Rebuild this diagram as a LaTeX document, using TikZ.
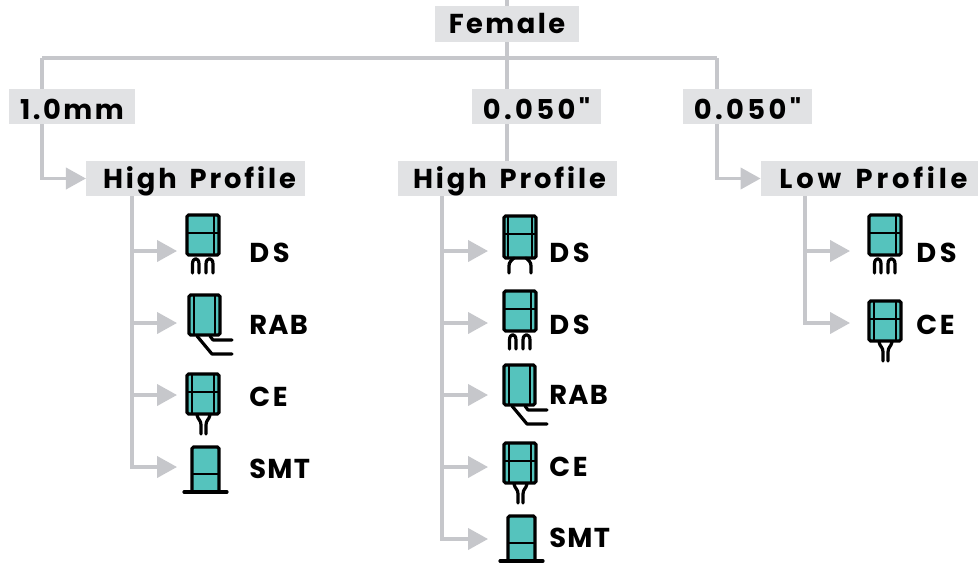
\documentclass[tikz,border=0pt]{standalone}
\usepackage{fontspec}
\newfontfamily\hdfont{Poppins}[LetterSpace=9,WordSpace=1.5]
\newfontfamily\lbfont{Poppins}[LetterSpace=5]
\newcommand{\spaced}[2]{{\addfontfeature{LetterSpace=#1}#2}}
\usetikzlibrary{arrows.meta}
\definecolor{teal1}{HTML}{55C3BD}
\definecolor{conn}{HTML}{C6C7CB}
\definecolor{boxg}{HTML}{E1E2E4}
\tikzset{x=0.75pt,y=-0.75pt,
  hd/.style={fill=boxg,inner sep=0pt,text=black,font=\hdfont\bfseries\fontsize{20.5}{24}\selectfont,anchor=center,text height=14.5pt,text depth=0pt},
  hdlow/.style={hd,text height=18.8pt},
  lb/.style={inner sep=0pt,anchor=west,text=black,font=\lbfont\bfseries\fontsize{20.5}{24}\selectfont},
  conline/.style={draw=conn,line width=2.3pt},
  conarrow/.style={conline,-{Triangle[length=15pt,width=16pt,fill=conn]}},
  body/.style={fill=teal1,draw=black,line width=2.4pt,rounded corners=1.2pt},
  inner/.style={draw=black,line width=1.6pt},
  leg/.style={draw=black,line width=2.4pt,line cap=round,line join=round}}
% the icons, in pixel coordinates from the top left of the body
\newcommand{\iconDS}[2]{\begin{scope}[shift={(#1,#2)}]
  \draw[body] (0,0) rectangle (32,40);
  \draw[inner] (0,18) -- (32,18) (27,0) -- (27,40);
  \draw[leg] (5.5,58) -- (5.5,49) .. controls (5.5,42) and (12,42) .. (12,49) -- (12,58);
  \draw[leg] (19,58) -- (19,49) .. controls (19,42) and (26,42) .. (26,49) -- (26,58);
\end{scope}}
\newcommand{\iconDSii}[2]{\begin{scope}[shift={(#1,#2)}]
  \draw[body] (0,0) rectangle (32,42);
  \draw[inner] (0,18) -- (32,18) (4,0) -- (4,42) (28,0) -- (28,42);
  \draw[leg] (5,57) -- (5,50) .. controls (5,46) and (7,45) .. (10,42);
  \draw[leg] (27,57) -- (27,50) .. controls (27,46) and (25,45) .. (22,42);
\end{scope}}
\newcommand{\iconRAB}[2]{\begin{scope}[shift={(#1,#2)}]
  \draw[body] (0,0) rectangle (31,40);
  \draw[inner] (5,0) -- (5,40) (26,0) -- (26,40);
  \draw[leg] (8,41) -- (23,59) -- (43,59);
  \draw[leg] (21,41) -- (24,45) -- (43,45);
\end{scope}}
\newcommand{\iconCE}[2]{\begin{scope}[shift={(#1,#2)}]
  \draw[body] (0,0) rectangle (32,40);
  \draw[inner] (0,18) -- (32,18) (5,0) -- (5,40) (27,0) -- (27,40);
  \draw[leg] (10,41) .. controls (11,46) and (14,46) .. (14,51) -- (14,60);
  \draw[leg] (23,41) .. controls (22,46) and (19,46) .. (19,51) -- (19,60);
\end{scope}}
\newcommand{\iconSMT}[2]{\begin{scope}[shift={(#1,#2)}]
  \draw[body] (0,45) -- (0,0) -- (27,0) -- (27,45);
  \draw[inner] (0,27) -- (27,27);
  \draw[leg] (-8,45) -- (35,45);
\end{scope}}
\newcommand{\dslabel}{\spaced{14}{DS}}
\newcommand{\celabel}{\spaced{10}{CE}}
\begin{document}
\begin{tikzpicture}
\useasboundingbox (0,0) rectangle (978,564);
\coordinate (top) at (507,0);
\coordinate (railL) at (42,58);
\coordinate (railR) at (717,58);
\coordinate (railM) at (507,58);
\node[hd,minimum width=108pt,minimum height=27pt] (female) at (507,24) {Female};
\node[hdlow,minimum width=94.5pt,minimum height=26pt] (mm) at (72,106.5) {1.0mm};
\node[hdlow,minimum width=97pt,minimum height=26pt] (milA) at (536.5,106.5) {\spaced{12.5}{0.050"}};
\node[hdlow,minimum width=97pt,minimum height=26pt] (milB) at (747.5,106.5) {\spaced{12.5}{0.050"}};
\node[hd,minimum width=164pt,minimum height=26pt] (hpA) at (195.5,178.5) {\hspace*{6pt}\spaced{10.5}{High Profile}};
\node[hd,minimum width=164pt,minimum height=26pt] (hpB) at (507.5,178.5) {\hspace*{3pt}\spaced{10.5}{High Profile}};
\node[hd,minimum width=163pt,minimum height=26pt] (lp) at (869.5,178.5) {\hspace*{6pt}\spaced{14}{Low Profile}};
\draw[conline] (top) -- (female.north);
\draw[conline] (female.south) -- (railM);
\draw[conline] (railL) -- (railR);
\draw[conline] (railM) -- (milA.north -| railM);
\draw[conline] (milA.south -| railM) -- (hpB.north -| railM);
\draw[conline] (railL) -- (mm.north -| railL);
\draw[conline] (railR) -- (milB.north -| railR);
\draw[conarrow] (mm.south -| railL) |- (hpA.west);
\draw[conarrow] (milB.south -| railR) |- (lp.west);
\foreach \n/\t/\y in {a1/\dslabel/253,a2/RAB/325,a3/\celabel/397,a4/SMT/469}
  \node[lb] (\n) at (249,\y) {\t};
\foreach \n/\t/\y in {b1/\dslabel/253,b2/\dslabel/325,b3/RAB/395,b4/\celabel/467,b5/SMT/538}
  \node[lb] (\n) at (549,\y) {\t};
\foreach \n/\t/\y in {c1/\dslabel/253,c2/\celabel/325}
  \node[lb] (\n) at (916,\y) {\t};
\coordinate (sa) at (132,196);
\coordinate (sb) at (442,196);
\coordinate (sc) at (805,196);
\foreach \n/\y in {a1/251,a2/323,a3/395,a4/467} {
  \coordinate (t\n) at (177,\y);
  \draw[conarrow] (sa) |- (t\n);
}
\foreach \n/\y in {b1/251,b2/323,b3/395,b4/467,b5/539} {
  \coordinate (t\n) at (488,\y);
  \draw[conarrow] (sb) |- (t\n);
}
\foreach \n/\y in {c1/251,c2/323} {
  \coordinate (t\n) at (850,\y);
  \draw[conarrow] (sc) |- (t\n);
}
\iconDS{187}{215}
\iconRAB{189}{295}
\iconCE{187}{374}
\iconSMT{192}{447}
\iconDSii{504}{216}
\iconDS{504}{291}
\iconRAB{504}{365}
\iconCE{504}{443}
\iconSMT{508}{516}
\iconDS{869}{215}
\iconCE{869}{301}
\end{tikzpicture}
\end{document}
